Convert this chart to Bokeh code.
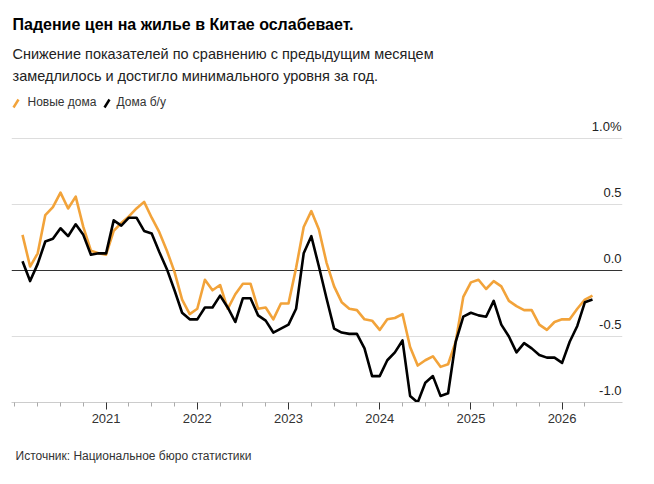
import pandas as pd
from bokeh.plotting import figure
from bokeh.models import FixedTicker, Span, Label, Arrow, Range1d, Title
from bokeh.embed import file_html
from bokeh.resources import INLINE

# ---------------- data ----------------
months = pd.date_range("2020-02-01", periods=76, freq="MS")

new_homes = [0.27, 0.03, 0.13, 0.42, 0.48, 0.59, 0.47, 0.56, 0.33, 0.15,
             0.13, 0.12, 0.30, 0.36, 0.41, 0.47, 0.52, 0.40, 0.29, 0.15,
             -0.01, -0.22, -0.33, -0.29, -0.07, -0.15, -0.11, -0.29, -0.18, -0.10,
             -0.10, -0.29, -0.28, -0.37, -0.25, -0.25, 0.02, 0.33, 0.45, 0.31,
             0.06, -0.12, -0.24, -0.29, -0.30, -0.37, -0.38, -0.45, -0.37, -0.36,
             -0.33, -0.58, -0.72, -0.68, -0.65, -0.73, -0.71, -0.54, -0.20, -0.09,
             -0.07, -0.14, -0.08, -0.12, -0.23, -0.27, -0.30, -0.30, -0.41, -0.45,
             -0.39, -0.37, -0.37, -0.29, -0.22, -0.19]

used_homes = [0.07, -0.08, 0.05, 0.22, 0.24, 0.32, 0.26, 0.35, 0.27, 0.12,
              0.13, 0.13, 0.38, 0.34, 0.40, 0.40, 0.30, 0.28, 0.14, 0.01,
              -0.15, -0.32, -0.37, -0.37, -0.28, -0.28, -0.19, -0.28, -0.39, -0.21,
              -0.21, -0.34, -0.38, -0.47, -0.44, -0.41, -0.29, 0.13, 0.26, 0.03,
              -0.21, -0.44, -0.47, -0.48, -0.48, -0.59, -0.80, -0.80, -0.68, -0.62,
              -0.53, -0.95, -1.00, -0.85, -0.80, -0.95, -0.93, -0.54, -0.35, -0.32,
              -0.34, -0.35, -0.23, -0.41, -0.50, -0.62, -0.55, -0.59, -0.64, -0.66,
              -0.66, -0.70, -0.54, -0.42, -0.24, -0.22]

year_ticks = [2021, 2022, 2023, 2024, 2025, 2026]
year_labels = ["2021", "2022", "2023", "2024", "2025", "2026"]
y_ticks = [-1.0, -0.5, 0.0, 0.5, 1.0]
y_labels = ["-1.0", "-0.5", "0.0", "0.5", "1.0%"]

title_text = "Падение цен на жилье в Китае ослабевает."
subtitle_lines = ["Снижение показателей по сравнению с предыдущим месяцем",
                  "замедлилось и достигло минимального уровня за год."]
series_names = ["Новые дома", "Дома б/у"]
source_text = "Источник: Национальное бюро статистики"

# ---------------- layout ----------------
W, H = 654, 484
FL, FR, FT, FB = 11, 622, 0, 402
X0_PX = 14.4            # canvas x of 2020-01
PX_YEAR = 91.2
PX_UNIT = 132.0
ORANGE = "#F2A33A"
FONT = "'Liberation Sans', Arial, sans-serif"

x = [d.year + (d.month - 1) / 12 for d in months]
x_start = 2020 - (X0_PX - FL) / PX_YEAR
x_end = 2020 + (FR - X0_PX) / PX_YEAR

p = figure(width=W, height=H, output_backend="svg", toolbar_location=None,
           title=None,
           x_range=Range1d(x_start, x_end),
           y_range=Range1d(-1.0, -1.0 + (FB - FT) / PX_UNIT),
           min_border_left=FL, min_border_right=W - FR,
           min_border_top=FT, min_border_bottom=H - FB,
           y_axis_location=None, outline_line_color=None,
           background_fill_color="white", border_fill_color="white")

p.xgrid.visible = False
p.ygrid.ticker = FixedTicker(ticks=[-0.5, 0.5, 1.0])
p.ygrid.grid_line_color = "#dddddd"
p.ygrid.grid_line_width = 1

p.add_layout(Span(location=0, dimension="width", line_color="#333333",
                  line_width=1, level="underlay"))

quarter_ticks = [yr + q / 4 for yr in range(2020, 2027) for q in range(4)
                 if (yr + q / 4) not in year_ticks and yr + q / 4 <= 2026.25]
ax = p.xaxis[0]
ax.ticker = FixedTicker(ticks=year_ticks, minor_ticks=quarter_ticks)
ax.major_label_overrides = {t: l for t, l in zip(year_ticks, year_labels)}
ax.axis_line_color = "#cccccc"
ax.major_tick_line_color = "#333333"
ax.major_tick_in = 0
ax.major_tick_out = 7
ax.minor_tick_line_color = "#aaaaaa"
ax.minor_tick_in = 0
ax.minor_tick_out = 4
ax.major_label_standoff = 4
ax.major_label_text_font = FONT
ax.major_label_text_font_size = "13px"
ax.major_label_text_color = "#333333"

# source line under the axis
p.add_layout(Title(text=source_text, align="left", offset=4, standoff=42,
                   text_font=FONT, text_font_size="12px", text_font_style="normal",
                   text_color="#333333"), "below")

# series
p.line(x, new_homes, line_color=ORANGE, line_width=2.6, line_join="round")
p.line(x, used_homes, line_color="black", line_width=2.6, line_join="round")

# y tick labels inside the frame (right-aligned, centred 12px above gridlines)
for v, lab in zip(y_ticks, y_labels):
    p.add_layout(Label(x=x_end, y=v + 12 / PX_UNIT, text=lab, text_align="right",
                       text_baseline="middle", x_offset=-1,
                       text_font=FONT, text_font_size="13px", text_color="#222222"))


def cx(v):
    return v - FL


def cy(v):
    return FB - v


def header(text, x0, mid, size, bold=False, color="#111111"):
    p.add_layout(Label(x=cx(x0), y=cy(mid), x_units="screen", y_units="screen",
                       text=text, text_align="left", text_baseline="middle",
                       text_font=FONT, text_font_size=size,
                       text_font_style="bold" if bold else "normal",
                       text_color=color))


header(title_text, 12, 24, "16px", bold=True, color="#000000")
header(subtitle_lines[0], 12, 53, "14.5px", color="#222222")
header(subtitle_lines[1], 12, 75.5, "14.5px", color="#222222")
header(series_names[0], 27, 101, "12px", color="#333333")
header(series_names[1], 116, 101, "12px", color="#333333")

for (x0, col) in [(13, ORANGE), (104, "black")]:
    p.add_layout(Arrow(end=None, start=None, x_start=cx(x0), y_start=cy(107),
                       x_end=cx(x0 + 5), y_end=cy(99),
                       start_units="screen", end_units="screen",
                       line_color=col, line_width=2.5))

open("out.html", "w").write(file_html(p, INLINE))
